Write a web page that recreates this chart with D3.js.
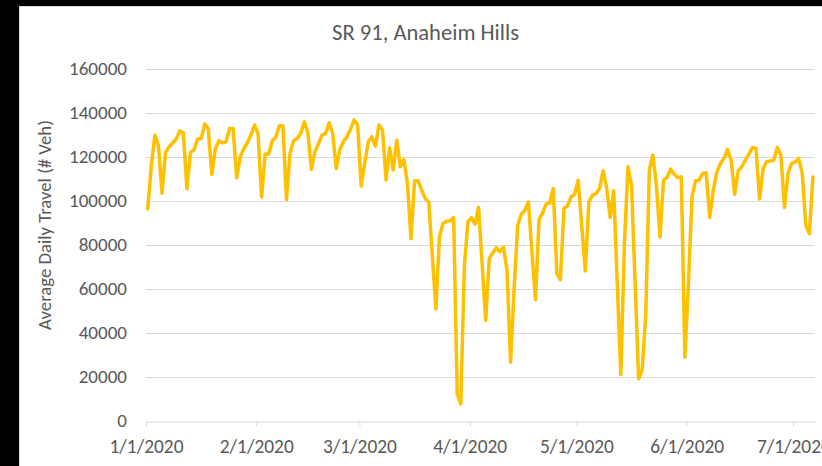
<!DOCTYPE html>
<html>
<head>
<meta charset="utf-8">
<script src="https://cdn.jsdelivr.net/npm/d3@7"></script>
<style>
  body { margin: 0; background: #000; }
  svg { display: block; }
  text { font-family: Calibri, Carlito, Lato, sans-serif; fill: #595959; }
</style>
</head>
<body>
<svg id="chart"></svg>
<script>
// daily average traffic, one value per day starting 1/1/2020
const startDate = Date.UTC(2020, 0, 1);
const janValues = [96200, 116000, 129800, 125000, 103400, 122000, 124400, 126300, 128000, 131800, 130800, 105400, 122000, 123000, 128000, 128200, 134800, 132800, 112000, 123600, 127200, 126300, 126700, 132800, 132800, 110400, 119900, 123700, 126300, 129800, 134400];
const febValues = [130600, 101700, 121200, 121200, 127200, 128800, 134000, 133900, 100500, 121500, 127200, 128300, 130600, 135900, 130900, 114200, 122200, 126000, 129800, 130600, 135400, 130300, 114600, 123300, 126800, 129100, 132400, 136700, 134400];
const marValues = [106600, 117000, 126800, 129100, 124800, 134400, 132100, 109300, 124000, 113900, 127500, 115400, 118700, 107800, 82700, 109000, 109000, 104800, 101000, 99400, 75000, 50800, 83500, 89600, 90600, 90800, 92300, 12000, 7500, 70000, 90300];
const aprValues = [92300, 89300, 96900, 71300, 45500, 73600, 76200, 78600, 76700, 78900, 68300, 26500, 60000, 88800, 93800, 95600, 99400, 76700, 55000, 91400, 94400, 98400, 99000, 105500, 66800, 64000, 96400, 97500, 101700, 102900];
const mayValues = [109300, 88700, 68000, 99400, 102500, 103200, 105500, 113600, 106000, 92300, 104500, 62000, 20900, 80000, 115400, 107000, 63000, 19000, 23000, 48000, 113900, 120700, 107000, 83500, 109300, 110500, 114300, 112000, 110500, 110800, 28800];
const junValues = [62000, 101700, 109000, 109300, 112400, 112700, 92300, 104800, 113100, 116900, 119200, 123300, 118400, 102900, 113600, 115400, 118400, 121200, 124200, 123700, 100700, 114600, 117700, 118000, 118400, 124200, 120700, 96900, 112400, 116900];
const julValues = [117500, 119200, 112400, 88800, 85000, 110800];

const yTicks = [0, 20000, 40000, 60000, 80000, 100000, 120000, 140000, 160000];
const chartTitle = 'SR 91, Anaheim Hills';
const yTitle = 'Average Daily Travel (# Veh)';

const width = 822, height = 466;
const DAY = 86400000;

let values = [].concat(janValues, febValues, marValues, aprValues, mayValues, junValues, julValues);
// points sit in the middle of their day
let data = values.map((v, i) => ({ date: new Date(startDate + i * DAY + DAY / 2), value: v }));

// pick a font size so the text has the wanted width (Calibri isn't around)
function fitSize(sampleText, wanted) {
    let probe = svg.append('text').style('font-size', '20px').text(sampleText);
    let w = probe.node().getComputedTextLength();
    probe.remove();
    return 20 * wanted / w;
}

let svg = d3.select('#chart')
    .attr('width', width)
    .attr('height', height);

// black frame behind, white chart area with a thin border
svg.append('rect')
    .attr('width', width).attr('height', height)
    .attr('fill', '#000');
svg.append('rect')
    .attr('x', 19.5).attr('y', 6.5)
    .attr('width', width).attr('height', height)
    .attr('fill', '#fff')
    .attr('stroke', '#d9d9d9');

let tickFont = fitSize('160000', 58);
let dateFont = fitSize('1/1/2020', 74);

let x = d3.scaleUtc()
    .domain([new Date(startDate), new Date(startDate + values.length * DAY)])
    .range([146, 814.7]);

let y = d3.scaleLinear()
    .domain([0, 160000])
    .range([420.5, 68.7]);

// gridlines
svg.append('g')
    .selectAll('line')
    .data(yTicks.slice(1))
    .enter()
    .append('line')
    .attr('x1', x.range()[0]).attr('x2', x.range()[1])
    .attr('y1', d => Math.round(y(d)) + 0.5).attr('y2', d => Math.round(y(d)) + 0.5)
    .attr('stroke', '#d9d9d9')
    .attr('stroke-width', 1);

// y axis labels
let yAxis = svg.append('g')
    .attr('transform', 'translate(127,0)')
    .call(d3.axisLeft(y).tickValues(yTicks).tickFormat(d3.format('d')).tickSize(0).tickPadding(0));
yAxis.select('.domain').remove();
yAxis.selectAll('text')
    .style('font-size', tickFont + 'px')
    .style('font-family', 'Calibri, Carlito, Lato, sans-serif')
    .attr('fill', '#595959');

// x axis
let xAxis = svg.append('g')
    .attr('transform', 'translate(0,' + (Math.round(y(0)) + 0.5) + ')')
    .call(d3.axisBottom(x)
        .ticks(d3.utcMonth.every(1))
        .tickFormat(d3.utcFormat('%-m/%-d/%Y'))
        .tickSizeInner(5).tickSizeOuter(0).tickPadding(0));
xAxis.select('.domain').attr('stroke', '#d9d9d9');
xAxis.selectAll('.tick line').attr('stroke', '#d9d9d9');
xAxis.selectAll('text')
    .attr('y', 31).attr('dy', null)
    .style('font-size', dateFont + 'px')
    .style('font-family', 'Calibri, Carlito, Lato, sans-serif')
    .attr('fill', '#595959');

// the series
let line = d3.line()
    .x(d => x(d.date))
    .y(d => y(d.value));

svg.append('path')
    .datum(data)
    .attr('d', line)
    .attr('fill', 'none')
    .attr('stroke', '#FFC000')
    .attr('stroke-width', 3.5)
    .attr('stroke-linejoin', 'round')
    .attr('stroke-linecap', 'round');

// titles
svg.append('text')
    .attr('x', 425.5).attr('y', 40)
    .attr('text-anchor', 'middle')
    .style('font-size', fitSize(chartTitle, 187) + 'px')
    .text(chartTitle);

svg.append('text')
    .attr('transform', 'translate(51,225) rotate(-90)')
    .attr('text-anchor', 'middle')
    .style('font-size', fitSize(yTitle, 210) + 'px')
    .text(yTitle);
</script>
</body>
</html>
